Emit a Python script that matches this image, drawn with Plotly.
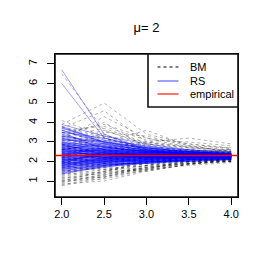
import plotly.graph_objects as go

x_vals = [2.0, 2.5, 3.0, 3.5, 4.0]

bm_paths = [
    [6.5, 3.6, 2.9, 2.6, 2.4], [4.1, 3.3, 2.8, 2.5, 2.6], [3.9, 5.0, 3.4, 2.9, 2.7],
    [3.7, 4.6, 3.0, 3.2, 2.9], [3.5, 3.0, 3.6, 2.8, 2.5], [3.3, 4.0, 2.7, 2.6, 2.4],
    [3.2, 2.6, 2.9, 2.7, 2.6], [3.0, 3.4, 2.5, 2.4, 2.3], [2.9, 2.3, 2.6, 2.5, 2.4],
    [2.8, 3.1, 2.4, 2.2, 2.5], [2.7, 2.5, 2.8, 2.4, 2.2], [2.6, 2.9, 2.2, 2.6, 2.3],
    [2.5, 2.1, 2.3, 2.3, 2.4], [2.45, 2.7, 2.6, 2.2, 2.2], [2.4, 2.2, 2.0, 2.3, 2.5],
    [2.35, 2.8, 2.4, 2.5, 2.3], [2.3, 1.9, 2.2, 2.1, 2.2], [2.25, 2.4, 2.5, 2.4, 2.35],
    [2.2, 2.6, 2.1, 2.2, 2.1], [2.15, 2.0, 2.3, 2.5, 2.4], [2.1, 2.3, 1.9, 2.1, 2.3],
    [2.05, 1.7, 2.1, 2.3, 2.2], [2.0, 2.5, 2.7, 2.4, 2.45], [1.95, 2.2, 2.0, 2.0, 2.1],
    [1.9, 1.8, 2.2, 2.3, 2.25], [1.85, 2.1, 1.8, 2.1, 2.0], [1.8, 1.5, 2.0, 2.2, 2.3],
    [1.75, 2.0, 2.3, 2.0, 2.15], [1.7, 1.6, 1.9, 2.2, 2.35], [1.6, 1.9, 1.7, 1.9, 2.05],
    [1.55, 1.4, 2.1, 2.0, 2.2], [1.5, 1.7, 1.6, 2.1, 2.1], [1.4, 1.3, 1.8, 1.9, 2.0],
    [1.3, 1.6, 1.5, 1.85, 2.15], [1.2, 1.2, 1.7, 2.0, 2.05], [1.1, 1.4, 1.6, 1.8, 1.95],
    [1.0, 1.1, 1.55, 1.9, 2.1], [0.95, 1.3, 1.65, 2.0, 2.0], [0.85, 1.0, 1.5, 1.85, 2.05],
    [0.75, 1.15, 1.6, 1.95, 2.1], [3.1, 4.3, 3.2, 2.7, 2.55], [3.6, 3.8, 3.1, 3.0, 2.8],
    [2.6, 3.5, 3.3, 2.8, 2.5], [1.65, 2.4, 2.5, 2.6, 2.45], [2.9, 2.0, 2.4, 2.3, 2.2],
    [3.8, 3.2, 2.6, 2.5, 2.45], [3.4, 2.7, 3.0, 2.7, 2.5], [3.05, 3.6, 2.85, 2.55, 2.35],
    [2.75, 2.4, 2.3, 2.45, 2.6], [2.55, 3.2, 2.6, 2.3, 2.25], [2.2, 1.8, 2.0, 2.2, 2.4],
    [1.9, 2.4, 2.1, 2.0, 2.15], [1.45, 1.9, 2.2, 2.1, 2.25], [1.25, 1.5, 1.9, 2.05, 2.2],
    [1.05, 1.2, 1.75, 1.95, 2.1], [0.9, 1.35, 1.7, 1.9, 2.0], [2.65, 2.2, 2.45, 2.6, 2.5],
    [3.45, 3.9, 3.2, 2.9, 2.65], [2.0, 1.6, 1.8, 2.1, 2.3], [1.35, 1.75, 1.95, 2.15, 2.1],
    [1.15, 1.45, 1.65, 1.9, 2.05], [0.8, 1.25, 1.55, 1.85, 2.0], [1.0, 1.5, 1.8, 2.0, 2.15],
    [3.25, 3.7, 2.95, 2.75, 2.6], [2.85, 3.3, 3.0, 2.8, 2.7],
]

rs_paths = [
    [6.7, 3.4, 2.6, 2.4, 2.3], [6.0, 3.2, 2.7, 2.5, 2.35], [3.9, 3.3, 2.9, 2.6, 2.45],
    [3.8, 3.0, 2.7, 2.5, 2.4], [3.7, 3.1, 2.8, 2.55, 2.5], [3.6, 2.9, 2.6, 2.45, 2.35],
    [3.5, 3.2, 2.75, 2.6, 2.45], [3.4, 2.8, 2.5, 2.4, 2.3], [3.3, 3.0, 2.65, 2.5, 2.4],
    [3.2, 2.7, 2.55, 2.35, 2.35], [3.15, 2.85, 2.6, 2.45, 2.4], [3.1, 2.6, 2.45, 2.4, 2.3],
    [3.0, 2.75, 2.5, 2.5, 2.4], [2.95, 2.5, 2.4, 2.35, 2.3], [2.9, 2.65, 2.55, 2.4, 2.35],
    [2.85, 2.45, 2.35, 2.3, 2.25], [2.8, 2.6, 2.45, 2.45, 2.4], [2.75, 2.4, 2.3, 2.35, 2.3],
    [2.7, 2.55, 2.4, 2.3, 2.35], [2.65, 2.35, 2.35, 2.4, 2.3], [2.6, 2.5, 2.3, 2.3, 2.25],
    [2.55, 2.3, 2.4, 2.35, 2.35], [2.5, 2.45, 2.25, 2.3, 2.3], [2.45, 2.2, 2.3, 2.25, 2.25],
    [2.4, 2.4, 2.35, 2.3, 2.3], [2.35, 2.25, 2.2, 2.25, 2.3], [2.3, 2.35, 2.3, 2.35, 2.25],
    [2.25, 2.15, 2.25, 2.2, 2.25], [2.2, 2.3, 2.2, 2.3, 2.3], [2.15, 2.1, 2.15, 2.25, 2.2],
    [2.1, 2.25, 2.25, 2.2, 2.25], [2.05, 2.0, 2.1, 2.2, 2.2], [2.0, 2.2, 2.15, 2.25, 2.25],
    [1.95, 1.95, 2.05, 2.15, 2.2], [1.9, 2.1, 2.1, 2.2, 2.2], [1.85, 1.9, 2.0, 2.1, 2.15],
    [1.8, 2.05, 2.05, 2.15, 2.2], [1.75, 1.85, 1.95, 2.1, 2.15], [1.7, 2.0, 2.0, 2.05, 2.15],
    [1.65, 1.8, 1.95, 2.1, 2.1], [1.6, 1.9, 1.9, 2.05, 2.15], [1.55, 1.75, 2.0, 2.0, 2.1],
    [1.5, 1.85, 1.9, 2.1, 2.15], [1.45, 1.7, 1.95, 2.05, 2.1], [1.35, 1.75, 1.9, 2.0, 2.1],
    [2.6, 2.95, 2.7, 2.5, 2.4], [2.3, 2.7, 2.5, 2.4, 2.35], [2.0, 2.4, 2.45, 2.3, 2.25],
    [3.5, 2.6, 2.3, 2.2, 2.25], [1.9, 2.5, 2.6, 2.35, 2.3],
    [3.3, 2.9, 2.55, 2.45, 2.35], [3.0, 2.55, 2.45, 2.3, 2.3], [2.85, 2.75, 2.5, 2.4, 2.35],
    [2.7, 2.3, 2.25, 2.3, 2.25], [2.55, 2.6, 2.45, 2.35, 2.35], [2.45, 2.35, 2.3, 2.3, 2.3],
    [2.4, 2.15, 2.2, 2.25, 2.25], [2.35, 2.45, 2.4, 2.35, 2.3], [2.25, 2.2, 2.3, 2.3, 2.3],
    [2.2, 2.05, 2.15, 2.2, 2.25], [2.15, 2.35, 2.3, 2.25, 2.3], [2.1, 2.15, 2.2, 2.25, 2.25],
    [2.05, 2.3, 2.25, 2.3, 2.3], [1.95, 2.05, 2.15, 2.2, 2.25], [1.9, 1.95, 2.1, 2.2, 2.2],
    [1.85, 2.15, 2.2, 2.25, 2.25], [1.8, 1.95, 2.05, 2.15, 2.2], [1.75, 2.1, 2.15, 2.2, 2.25],
    [1.7, 1.9, 2.05, 2.15, 2.2], [1.6, 1.8, 2.0, 2.1, 2.15], [2.95, 2.8, 2.6, 2.45, 2.4],
    [3.25, 2.75, 2.5, 2.4, 2.35], [2.65, 2.45, 2.35, 2.35, 2.3], [2.5, 2.55, 2.4, 2.3, 2.3],
    [2.3, 2.25, 2.25, 2.3, 2.3], [2.0, 2.1, 2.2, 2.25, 2.3], [1.65, 2.0, 2.1, 2.15, 2.2],
    [3.6, 3.0, 2.65, 2.5, 2.4], [3.75, 2.95, 2.55, 2.4, 2.35], [1.4, 1.8, 2.0, 2.1, 2.15],
    [2.8, 2.5, 2.35, 2.3, 2.3], [2.6, 2.2, 2.25, 2.25, 2.25], [2.4, 2.6, 2.5, 2.4, 2.35],
    [2.2, 2.45, 2.35, 2.3, 2.25], [2.1, 2.0, 2.1, 2.2, 2.2], [1.8, 2.2, 2.25, 2.3, 2.3],
    [3.1, 3.05, 2.7, 2.5, 2.4], [2.9, 2.35, 2.3, 2.3, 2.3], [2.75, 2.65, 2.45, 2.4, 2.35],
    [2.5, 2.3, 2.2, 2.25, 2.25],
]

empirical = 2.31
title_text = "μ= 2"
legend_labels = ["BM", "RS", "empirical"]
x_ticks = [2.0, 2.5, 3.0, 3.5, 4.0]
x_tick_text = ["2.0", "2.5", "3.0", "3.5", "4.0"]
y_ticks = [1, 2, 3, 4, 5, 6, 7]
x_range = [1.92, 4.08]
y_range = [0.18, 7.51]

FONT = "Liberation Sans, Arial, sans-serif"
GRAY = "rgba(0,0,0,0.3)"
BLUE = "rgba(0,0,255,0.38)"

fig = go.Figure()
for p in bm_paths:
    fig.add_trace(go.Scatter(x=x_vals, y=p, mode="lines", showlegend=False,
                             line=dict(color=GRAY, width=1, dash="3px,3px"),
                             hoverinfo="skip"))
for p in rs_paths:
    fig.add_trace(go.Scatter(x=x_vals, y=p, mode="lines", showlegend=False,
                             line=dict(color=BLUE, width=1), hoverinfo="skip"))
# empirical reference line across the whole axis range
fig.add_trace(go.Scatter(x=x_range, y=[empirical, empirical], mode="lines",
                         showlegend=False, line=dict(color="#ff0000", width=1.5),
                         hoverinfo="skip"))

# page body has an 8px margin; figure is sized so the plot lands where intended
OFF = 8
W, H = 266 - OFF, 266 - OFF
L, R, T, B = 55 - OFF, 28, 54 - OFF, 69
pw, ph = W - L - R, H - T - B


def px(xp):
    return (xp - OFF - L) / pw


def py(yp):
    return (OFF + T + ph - yp) / ph


# plot frame: filled rect below the traces (a filled rect renders reliably)
fig.add_shape(type="rect", xref="paper", yref="paper", x0=0, x1=1, y0=0, y1=1,
              line=dict(color="#111111", width=1.6), fillcolor="white", layer="below")
# manual R-style legend
fig.add_shape(type="rect", xref="paper", yref="paper",
              x0=px(148), x1=1, y0=py(107), y1=1,
              line=dict(color="#111111", width=1.6), fillcolor="white", layer="above")
leg_styles = [dict(color="black", width=1, dash="3px,3px"),
              dict(color="rgba(0,0,255,0.5)", width=1.5),
              dict(color="rgba(255,0,0,0.75)", width=1.5)]
leg_y = [67, 81, 94]
for lab, st, yy in zip(legend_labels, leg_styles, leg_y):
    fig.add_shape(type="line", xref="paper", yref="paper",
                  x0=px(157.5), x1=px(178.5), y0=py(yy), y1=py(yy), line=st, layer="above")
    fig.add_annotation(xref="paper", yref="paper", x=px(187.5), y=py(yy),
                       text=lab, showarrow=False, xanchor="left", yanchor="middle",
                       font=dict(family=FONT, size=11, color="black"))

fig.update_layout(
    width=W, height=H, margin=dict(l=L, r=R, t=T, b=B, autoexpand=False),
    paper_bgcolor="white", plot_bgcolor="white",
    font=dict(family=FONT, size=11, color="black"),
    title=dict(text=title_text, x=(L + pw / 2) / W, xanchor="center",
               y=1 - (27 - OFF) / H, yanchor="middle", font=dict(family=FONT, size=13)),
    showlegend=False,
)
fig.update_xaxes(range=x_range, tickvals=x_ticks, ticktext=x_tick_text,
                 showgrid=False, zeroline=False, showline=True, mirror=True,
                 linecolor="black", linewidth=1,
                 ticks="outside", ticklen=7, tickwidth=1,
                 tickcolor="black", tickfont=dict(size=11, color="black"),
                 automargin=False)
fig.update_yaxes(range=y_range, tickvals=y_ticks,
                 showgrid=False, zeroline=False, showline=True, mirror=True,
                 linecolor="black", linewidth=1,
                 ticks="outside", ticklen=7, tickwidth=1,
                 tickcolor="black", tickangle=-90, tickfont=dict(size=11, color="black"),
                 automargin=False, ticklabelstandoff=6)

fig.write_html("out.html")
